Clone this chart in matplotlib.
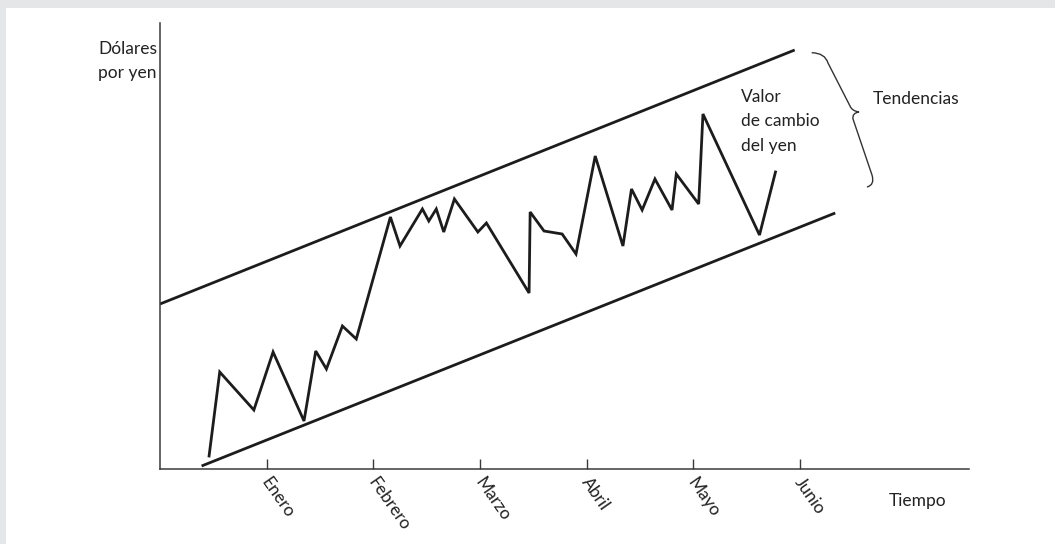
import matplotlib
matplotlib.use("Agg")
import matplotlib.pyplot as plt
from matplotlib.patches import Rectangle, PathPatch
from matplotlib.path import Path

plt.rcParams['font.family'] = ['Lato', 'DejaVu Sans']

# months on the time axis
months = ["Enero", "Febrero", "Marzo", "Abril", "Mayo", "Junio"]
month_pos = [1, 2, 3, 4, 5, 6]

# exchange rate path (time in months, value in arbitrary units)
t = [0.46, 0.56, 0.88, 1.06, 1.35, 1.46, 1.56, 1.71, 1.84, 2.16, 2.25, 2.46,
     2.52, 2.59, 2.66, 2.76, 2.98, 3.06, 3.46, 3.47, 3.60, 3.77, 3.90, 4.08,
     4.34, 4.42, 4.52, 4.64, 4.80, 4.84, 5.05, 5.09, 5.62, 5.77]
rate = [1.3, 9.7, 5.9, 11.7, 4.8, 11.8, 10.0, 14.3, 13.0, 25.2, 22.3, 26.0,
        24.8, 26.0, 23.7, 27.0, 23.7, 24.6, 17.6, 25.7, 23.8, 23.5, 21.5, 31.3,
        22.3, 28.0, 25.9, 29.0, 25.9, 29.5, 26.5, 35.5, 23.4, 29.7]

# trend channel
upper_t = [0.0, 5.95]
upper_y = [16.5, 41.9]
lower_t = [0.39, 6.33]
lower_y = [0.3, 25.6]

ink = "#1c1c1c"
axis_col = "#3a3a3a"
txt = "#222222"
fs = 12.5

fig = plt.figure(figsize=(10.55, 5.44), dpi=100, facecolor="#e5e6e8")
bg = Rectangle((6 / 1055, 0), 1, (544 - 8) / 544, transform=fig.transFigure,
               facecolor="white", edgecolor="none", zorder=-10)
fig.add_artist(bg)

ax = fig.add_axes([160 / 1055, 75 / 544, 809 / 1055, 446 / 544])
ax.set_facecolor("none")
ax.set_xlim(0, 809 / 106.67)
ax.set_ylim(0, 44.6)


def px(x, y):
    # helper: reference pixel position -> data coords
    return (x - 160) / 106.67, (469 - y) / 10


ax.plot(upper_t, upper_y, color=ink, lw=2.0, solid_capstyle="butt")
ax.plot(lower_t, lower_y, color=ink, lw=2.0, solid_capstyle="butt")
ax.plot(t, rate, color=ink, lw=2.0, solid_joinstyle="miter")

for s in ["top", "right"]:
    ax.spines[s].set_visible(False)
for s in ["left", "bottom"]:
    ax.spines[s].set_color(axis_col)
    ax.spines[s].set_linewidth(1.1)

ax.set_yticks([])
ax.set_xticks(month_pos)
ax.set_xticklabels([])
ax.tick_params(axis="x", direction="in", length=7.5, width=1.0, color=axis_col)

for m, lab in zip(month_pos, months):
    ax.text(m - 0.08, -0.6, lab, rotation=-55, ha="left", va="top",
            fontsize=fs, color=txt, clip_on=False)

x0, y0 = px(157, 41)
ax.text(x0, y0, "Dólares\npor yen", ha="right", va="top", fontsize=fs,
        color=txt, linespacing=1.65, clip_on=False)

x0, y0 = px(741, 89)
ax.text(x0, y0, "Valor\nde cambio\ndel yen", ha="left", va="top", fontsize=fs,
        color=txt, linespacing=1.65)

x0, y0 = px(873, 99)
ax.text(x0, y0, "Tendencias", ha="left", va="center", fontsize=fs, color=txt)

x0, y0 = px(889, 501)
ax.text(x0, y0, "Tiempo", ha="left", va="center", fontsize=fs,
        color=txt, clip_on=False)

# curly brace next to the channel
brace = [px(811.7, 52.7), px(825, 53), px(828, 63), px(850, 106),
         px(852, 111), px(859, 112), px(852, 113), px(853, 119),
         px(872, 175), px(875, 185), px(867, 187)]
codes = [Path.MOVETO, Path.CURVE3, Path.CURVE3, Path.LINETO,
         Path.CURVE3, Path.CURVE3, Path.CURVE3, Path.CURVE3,
         Path.LINETO, Path.CURVE3, Path.CURVE3]
ax.add_patch(PathPatch(Path(brace, codes), facecolor="none", edgecolor="#333333",
                       lw=1.0, clip_on=False))

fig.savefig("out.png", dpi=100, facecolor=fig.get_facecolor())
